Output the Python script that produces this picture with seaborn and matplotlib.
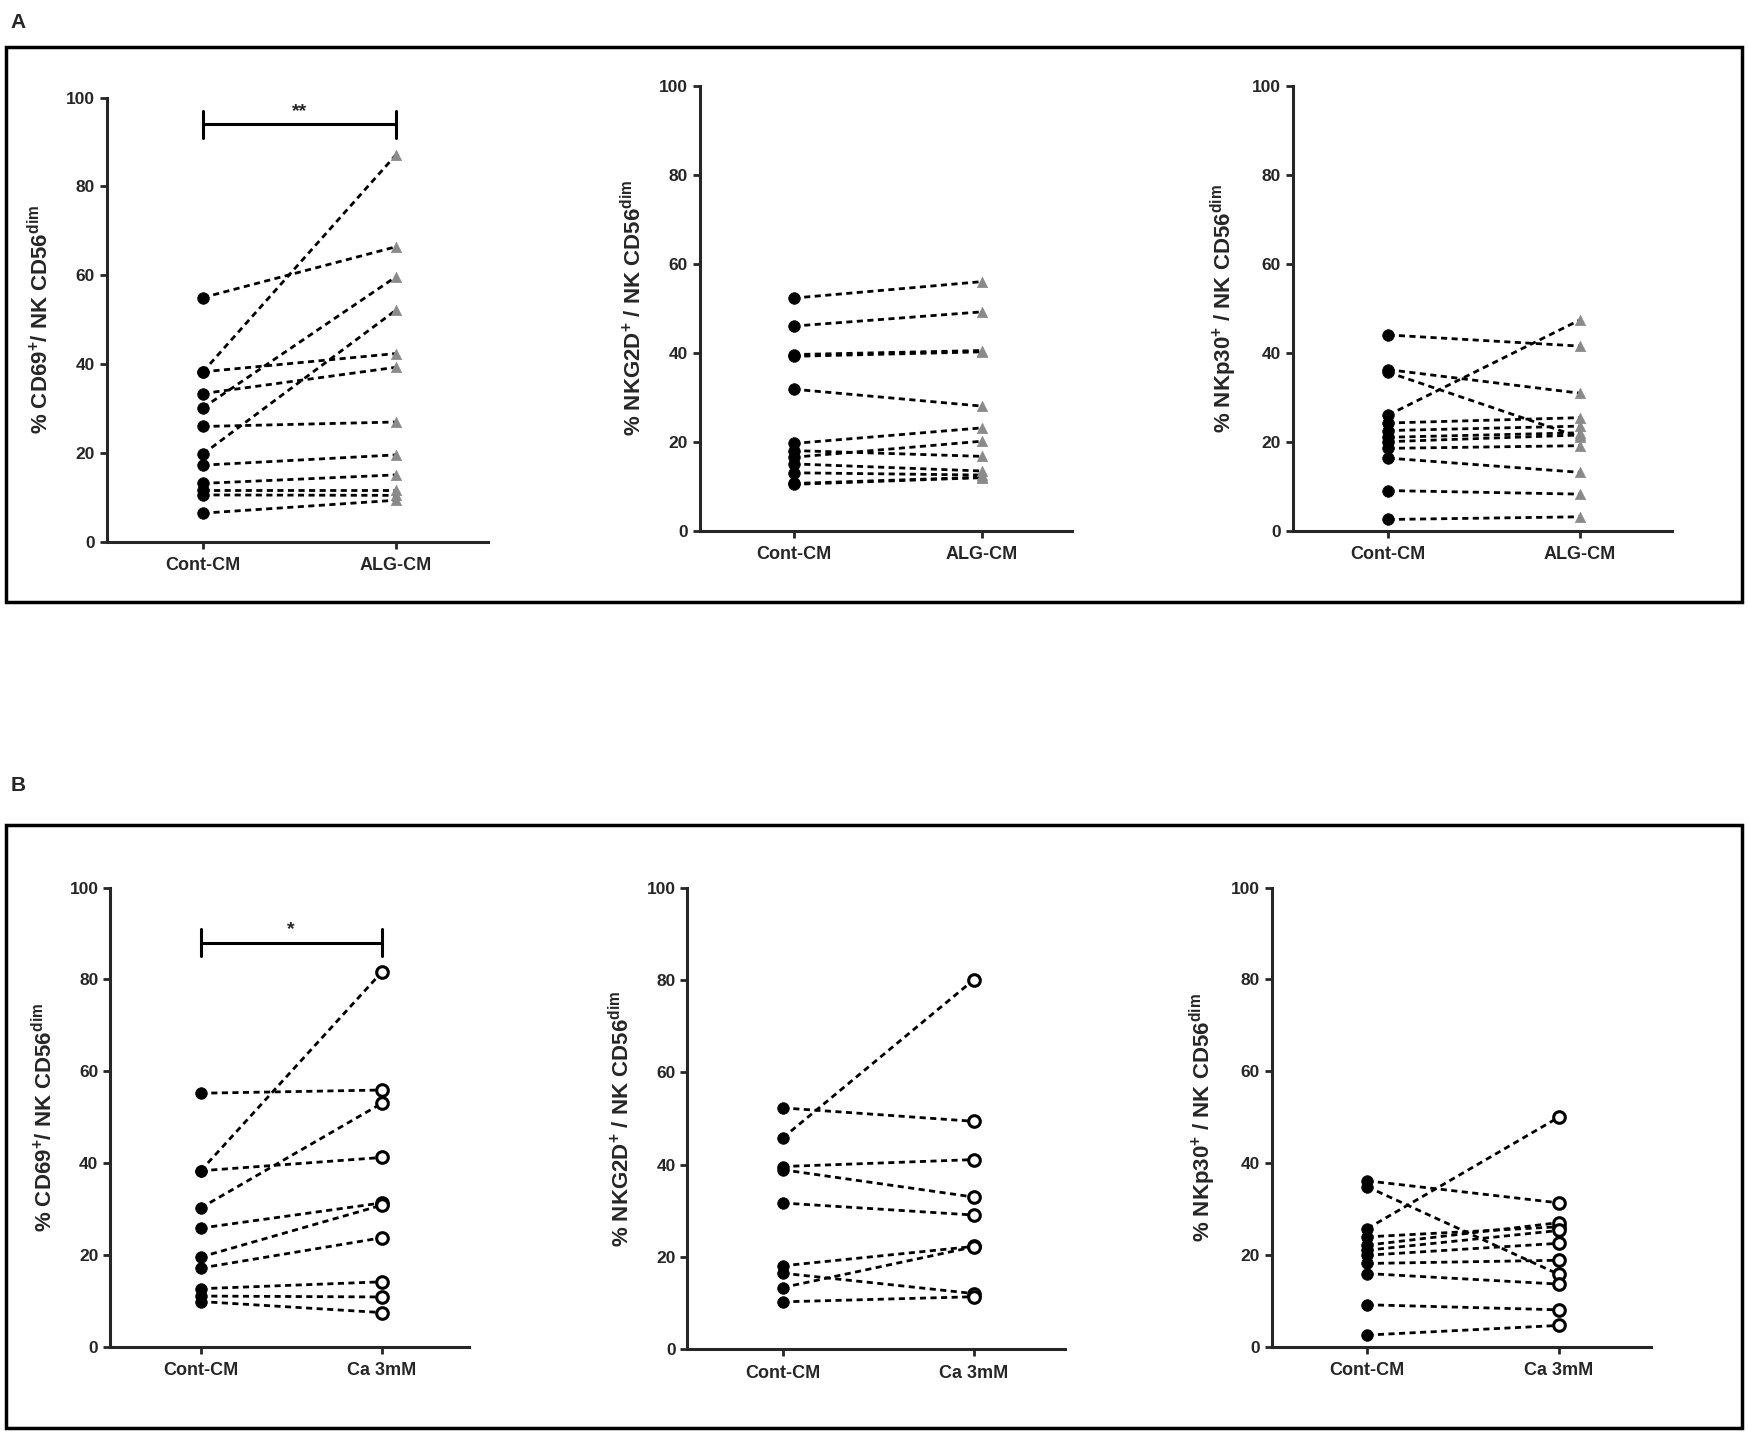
import pandas as pd
import matplotlib.pyplot as plt
import seaborn as sns
from matplotlib.patches import Rectangle

# --- data (one value per donor, paired) ---
a_cd69_cont = [55.0, 38.3, 38.3, 33.4, 30.2, 26.0, 19.8, 17.3, 13.2, 11.7, 10.6, 6.5]
a_cd69_alg = [66.4, 87.0, 42.4, 39.3, 59.6, 27.0, 52.1, 19.6, 15.1, 11.7, 10.5, 9.4]

a_nkg2d_cont = [52.3, 46.0, 39.6, 39.2, 31.8, 19.6, 18.0, 16.5, 15.0, 13.0, 10.6, 10.4]
a_nkg2d_alg = [56.0, 49.2, 40.5, 40.2, 28.0, 23.1, 16.7, 20.1, 13.4, 12.5, 12.0, 11.9]

a_nkp30_cont = [44.0, 36.2, 35.6, 26.0, 24.2, 22.5, 21.0, 20.0, 18.5, 16.3, 9.0, 2.5]
a_nkp30_alg = [41.5, 30.9, 21.0, 47.4, 25.4, 23.5, 22.0, 21.5, 19.1, 13.1, 8.2, 3.1]

b_cd69_cont = [55.2, 38.3, 38.3, 30.2, 25.8, 19.5, 17.1, 12.6, 11.0, 9.8]
b_cd69_ca = [55.9, 81.6, 41.2, 53.0, 31.3, 30.8, 23.7, 14.1, 10.8, 7.4]

b_nkg2d_cont = [52.3, 45.8, 39.6, 38.9, 31.7, 18.1, 13.4, 16.5, 10.3]
b_nkg2d_ca = [49.4, 80.0, 41.1, 33.0, 29.1, 22.3, 22.2, 12.1, 11.4]

b_nkp30_cont = [36.1, 34.8, 25.7, 23.9, 22.1, 21.0, 19.9, 18.1, 15.9, 9.1, 2.5]
b_nkp30_ca = [31.3, 15.7, 50.0, 26.1, 27.0, 25.3, 22.5, 18.8, 13.6, 8.0, 4.6]

groups_a = ['Cont-CM', 'ALG-CM']
groups_b = ['Cont-CM', 'Ca 3mM']
yticks = [0, 20, 40, 60, 80, 100]

lab_cd69 = r'% CD69$^{+}$/ NK CD56$^{dim}$'
lab_nkg2d = r'% NKG2D$^{+}$ / NK CD56$^{dim}$'
lab_nkp30 = r'% NKp30$^{+}$ / NK CD56$^{dim}$'

sns.set_style('ticks')
plt.rcParams['font.family'] = ['Liberation Sans', 'DejaVu Sans']
plt.rcParams['font.weight'] = 'bold'
plt.rcParams['mathtext.fontset'] = 'custom'
plt.rcParams['mathtext.rm'] = 'Liberation Sans:bold'
plt.rcParams['mathtext.bf'] = 'Liberation Sans:bold'
plt.rcParams['mathtext.default'] = 'bf'


def long_df(before, after, groups):
    rows = []
    for i, (b, a) in enumerate(zip(before, after)):
        rows.append({'donor': i, 'pos': 0, 'group': groups[0], 'value': b})
        rows.append({'donor': i, 'pos': 1, 'group': groups[1], 'value': a})
    return pd.DataFrame(rows)


def paired_panel(ax, before, after, groups, ylabel, second='tri', sig=None):
    df = long_df(before, after, groups)
    sns.lineplot(data=df, x='pos', y='value', units='donor', estimator=None,
                 color='black', linewidth=2, linestyle=(0, (2.2, 1.6)),
                 ax=ax, legend=False, zorder=2)
    sns.scatterplot(data=df[df['pos'] == 0], x='pos', y='value', color='black',
                    marker='o', s=70, edgecolor='black', linewidth=0.5,
                    ax=ax, legend=False, zorder=3)
    if second == 'tri':
        sns.scatterplot(data=df[df['pos'] == 1], x='pos', y='value',
                        color='#8a8a8a', marker='^', s=55, edgecolor='#8a8a8a',
                        linewidth=0.5, ax=ax, legend=False, zorder=3)
    else:
        sns.scatterplot(data=df[df['pos'] == 1], x='pos', y='value',
                        facecolor='white', marker='o', s=70, edgecolor='black',
                        linewidth=2.2, ax=ax, legend=False, zorder=3)
    ax.set_xlim(-0.5, 1.48)
    ax.set_ylim(0, 100)
    ax.set_yticks(yticks)
    ax.set_xticks([0, 1])
    ax.set_xticklabels(groups, fontsize=13, fontweight='bold')
    ax.tick_params(axis='y', labelsize=12.5, width=2, length=5)
    ax.tick_params(axis='x', width=2, length=5, pad=6)
    ax.set_xlabel('')
    ax.set_ylabel(ylabel, fontsize=16, fontweight='bold', labelpad=9)
    sns.despine(ax=ax)
    for s in ['left', 'bottom']:
        ax.spines[s].set_linewidth(2.2)
    if sig is not None:
        ybar, star = sig
        ax.plot([0, 1], [ybar, ybar], color='black', lw=2.2, clip_on=False)
        ax.plot([0, 0], [ybar - 3, ybar + 3], color='black', lw=2.2, clip_on=False)
        ax.plot([1, 1], [ybar - 3, ybar + 3], color='black', lw=2.2, clip_on=False)
        ax.text(0.5, ybar + 1, star, ha='center', va='bottom', fontsize=14,
                fontweight='bold')


fig = plt.figure(figsize=(17.49, 14.34), dpi=100)

axA1 = fig.add_axes([0.061, 0.622, 0.218, 0.310])
axA2 = fig.add_axes([0.400, 0.630, 0.213, 0.310])
axA3 = fig.add_axes([0.739, 0.630, 0.217, 0.310])
axB1 = fig.add_axes([0.063, 0.061, 0.205, 0.320])
axB2 = fig.add_axes([0.393, 0.059, 0.216, 0.322])
axB3 = fig.add_axes([0.727, 0.061, 0.217, 0.320])

paired_panel(axA1, a_cd69_cont, a_cd69_alg, groups_a, lab_cd69, 'tri', sig=(94, '**'))
paired_panel(axA2, a_nkg2d_cont, a_nkg2d_alg, groups_a, lab_nkg2d, 'tri')
paired_panel(axA3, a_nkp30_cont, a_nkp30_alg, groups_a, lab_nkp30, 'tri')
paired_panel(axB1, b_cd69_cont, b_cd69_ca, groups_b, lab_cd69, 'open', sig=(88, '*'))
paired_panel(axB2, b_nkg2d_cont, b_nkg2d_ca, groups_b, lab_nkg2d, 'open')
paired_panel(axB3, b_nkp30_cont, b_nkp30_ca, groups_b, lab_nkp30, 'open')

# panel frames and letters
fig.add_artist(Rectangle((0.0034, 0.580), 0.9925, 0.387, transform=fig.transFigure,
                         fill=False, edgecolor='black', linewidth=2.5))
fig.add_artist(Rectangle((0.0034, 0.004), 0.9925, 0.4205, transform=fig.transFigure,
                         fill=False, edgecolor='black', linewidth=2.5))
fig.text(0.006, 0.991, 'A', fontsize=15, fontweight='bold', va='top', ha='left')
fig.text(0.006, 0.452, 'B', fontsize=15, fontweight='bold', va='center', ha='left')

fig.savefig('out.png', dpi=100)
